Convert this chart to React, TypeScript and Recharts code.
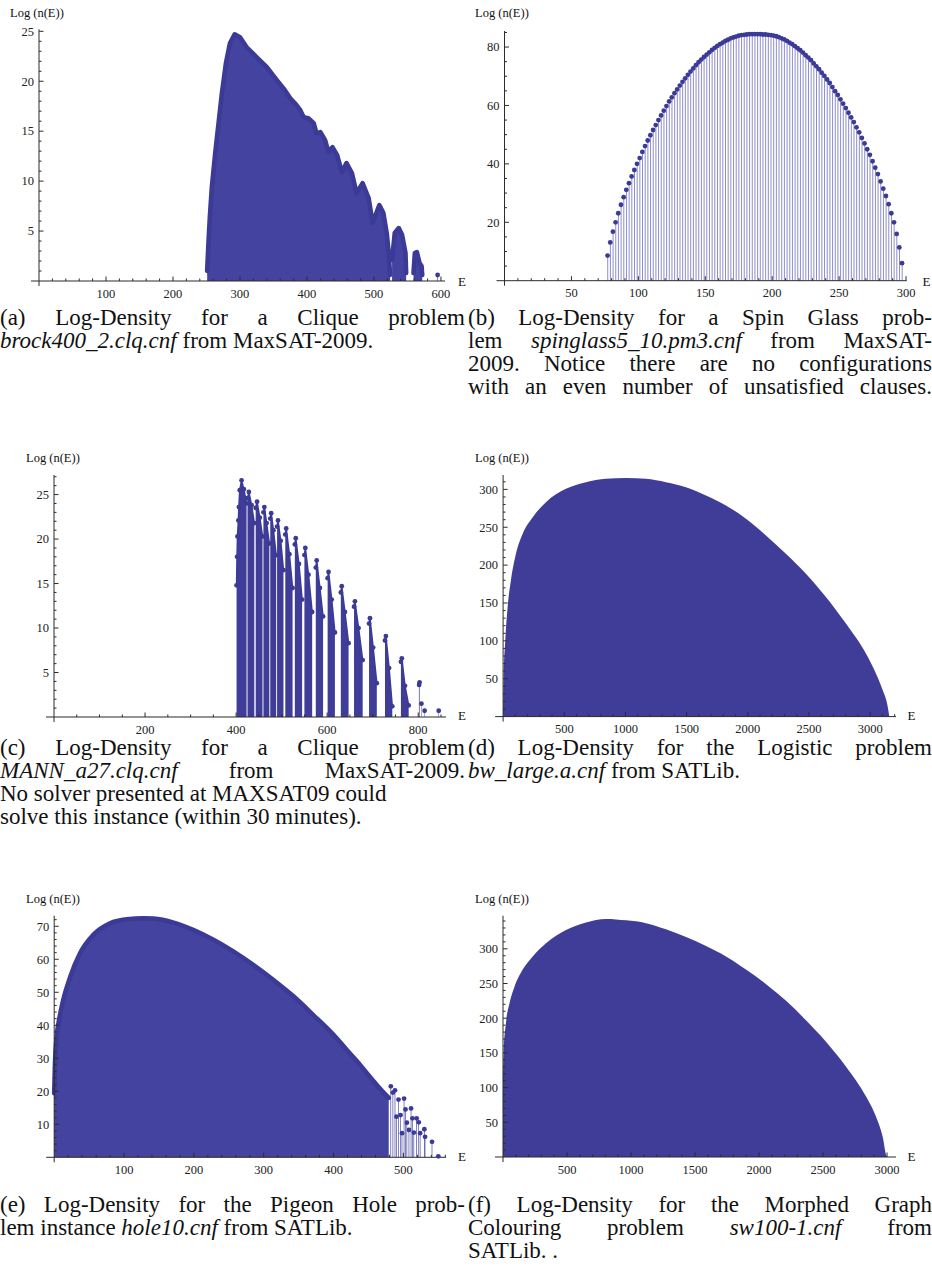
import React from 'react';
import { Area, Bar, ComposedChart, ReferenceLine, Scatter, XAxis, YAxis } from 'recharts';

const INK = '#3b3a96';
const DENSE = '#4543a0';
const SOLID = '#3f3d98';
const STEM = '#8e8dc9';
const AXIS = '#2b2b2b';
const SERIF = '"Liberation Serif", "Times New Roman", serif';

// (a) brock400_2.clq.cnf : outline of the dense stems (null = gap)
const brockE = [251, 253, 255, 258, 263, 268, 273, 279, 285, 292, 300, 310, 325, 340, 355, 367, 375, 382, 390, 395, 402, 410, 414, 420, 427, 432, 438, 445, 452, 459, 467, 474, 483, 492, 498, 508, 514, 519, 522, 524, 525, 527, 531, 537, 542, 547, 548, 553, 559, 561, 564, 568, 571, 572];
const brockV = [1.0, 3.9, 6.4, 9.4, 12.8, 15.8, 18.8, 21.8, 23.8, 24.7, 24.4, 23.4, 22.4, 21.4, 20.1, 19.1, 18.3, 17.8, 17.1, 16.4, 16.3, 15.8, 14.8, 14.9, 14.1, 12.9, 13.4, 12.6, 10.9, 11.8, 10.8, 8.8, 9.8, 8.3, 5.8, 7.6, 6.8, 4.8, 2.8, 0.6, null, 2.1, 4.8, 5.3, 4.6, 2.8, 0.8, null, 0.8, 2.8, 2.9, 1.8, 1.5, 0.6];
const brockStemE = [595];
const brockStemV = [0.6];

// (b) spinglass5_10.pm3.cnf : odd energies only
const spinE = [77, 79, 81, 83, 85, 87, 89, 91, 93, 95, 97, 99, 101, 103, 105, 107, 109, 111, 113, 115, 117, 119, 121, 123, 125, 127, 129, 131, 133, 135, 137, 139, 141, 143, 145, 147, 149, 151, 153, 155, 157, 159, 161, 163, 165, 167, 169, 171, 173, 175, 177, 179, 181, 183, 185, 187, 189, 191, 193, 195, 197, 199, 201, 203, 205, 207, 209, 211, 213, 215, 217, 219, 221, 223, 225, 227, 229, 231, 233, 235, 237, 239, 241, 243, 245, 247, 249, 251, 253, 255, 257, 259, 261, 263, 265, 267, 269, 271, 273, 275, 277, 279, 281, 283, 285, 287, 289, 291, 293, 295, 297];
const spinV = [8.6, 13.1, 16.8, 20.0, 23.1, 26.0, 28.6, 31.1, 33.4, 35.7, 37.9, 40.0, 42.0, 44.1, 46.1, 48.0, 49.8, 51.6, 53.3, 55.0, 56.6, 58.2, 59.8, 61.4, 62.8, 64.2, 65.5, 66.8, 68.1, 69.3, 70.5, 71.6, 72.7, 73.8, 74.8, 75.7, 76.6, 77.4, 78.2, 79.0, 79.7, 80.4, 81.0, 81.5, 82.1, 82.5, 83.0, 83.3, 83.6, 83.9, 84.1, 84.2, 84.3, 84.4, 84.4, 84.4, 84.4, 84.4, 84.3, 84.3, 84.2, 84.1, 83.9, 83.7, 83.4, 83.0, 82.6, 82.1, 81.5, 81.0, 80.3, 79.6, 78.9, 78.1, 77.2, 76.4, 75.5, 74.4, 73.4, 72.4, 71.2, 70.1, 68.9, 67.7, 66.3, 64.9, 63.6, 62.1, 60.6, 59.1, 57.5, 55.9, 54.3, 52.5, 50.8, 48.9, 47.0, 45.0, 43.1, 40.9, 38.7, 36.5, 34.0, 31.5, 29.0, 26.2, 23.1, 20.0, 16.0, 11.4, 6.0];

// (c) MANN_a27.clq.cnf : clusters of stems (null = gap between clusters)
const mannE = [401, 402, 403, 405, 406, 408, 412, 417, 423, 424, 425, 428, 434, 440, 441, 443, 446, 452, 458, 459, 460, 462, 467, 473, 474, 475, 477, 482, 488, 489, 490, 492, 498, 504, 506, 508, 510, 517, 524, 527, 529, 531, 538, 545, 548, 550, 552, 559, 567, 571, 575, 577, 584, 591, 596, 601, 603, 610, 617, 624, 630, 632, 639, 647, 653, 659, 661, 669, 678, 685, 692, 694, 701, 709, 718, 727, 729, 736, 743, 752, 762, 764, 771, 779];
const mannV = [14.8, 18.0, 20.3, 22.1, 23.6, 25.5, 26.6, 25.6, 24.0, null, 24.6, 25.3, 23.8, 21.8, null, 23.5, 24.2, 22.4, 20.3, null, 23.0, 23.6, 21.8, 19.5, null, 22.3, 22.9, 21.0, 18.2, null, 21.4, 22.1, 19.8, 16.5, null, 20.5, 21.2, 18.3, 14.5, null, 19.4, 20.1, 17.2, 13.2, null, 18.2, 19.0, 16.0, 11.8, null, 16.8, 17.6, 14.5, 11.3, null, 15.6, 16.3, 13.2, 9.5, null, 14.0, 14.7, 11.8, 8.3, null, 12.4, 13.0, 10.0, 6.4, null, 10.5, 11.1, 7.8, 3.8, null, 8.6, 9.1, 5.5, 1.2, null, 6.2, 6.6, 3.5, 1.3];
const mannStemE = [802, 803, 807, 814, 845];
const mannStemV = [3.6, 3.9, 1.5, 0.7, 0.7];

// (d) bw_large.a.cnf
const bwE = [0, 4.5, 18, 37, 64, 105, 160, 242, 350, 514, 677, 841, 1004, 1167, 1331, 1494, 1658, 1821, 1985, 2148, 2311, 2475, 2638, 2802, 2965, 3047, 3102, 3143, 3156];
const bwV = [0, 52.6, 100.9, 144.8, 179.9, 215, 241.4, 263.3, 283.1, 300.7, 309.5, 313.9, 315.2, 313.9, 309.5, 302.9, 292, 278.8, 261.2, 239.2, 215, 188.7, 158, 122.8, 83.3, 57, 35, 13.2, 0];

// (e) hole10.cnf : dense outline, then sparse tail stems
const holeE = [0, 1, 3.5, 7, 13, 23, 37, 56, 80, 104, 128, 142, 171, 199, 228, 257, 285, 314, 343, 371, 400, 419, 438, 452, 464, 472, 479];
const holeV = [19.4, 27.5, 36.5, 41.6, 47.7, 54.7, 61.8, 67.4, 70.9, 72.1, 72.4, 72.3, 71.1, 68.9, 65.9, 62.3, 58.3, 53.7, 48.7, 43.1, 37.1, 32.5, 28.0, 24.4, 21.4, 19.5, 18.0];
const holeStemE = [482, 485, 488, 490, 493, 496, 498, 501, 503, 505, 508, 511, 513, 515, 519, 522, 524, 530, 531, 541, 550];
const holeStemV = [21.5, 19.6, 20.3, 12.3, 17.5, 12.8, 7.3, 17.8, 14.5, 10.5, 8.3, 14.8, 11.8, 7.5, 11.8, 10.6, 7.3, 8.5, 6.2, 4.7, 0.3];

// (f) sw100-1.cnf
const swE = [0, 0.5, 5, 23, 50, 89, 154, 232, 336, 492, 648, 805, 961, 1117, 1273, 1430, 1586, 1742, 1898, 2055, 2211, 2367, 2523, 2680, 2836, 2914, 2966, 2997, 3005];
const swV = [63, 106, 149, 193, 221, 245, 270, 289, 308, 327, 338, 343, 341, 337, 328, 317, 304, 289, 270, 249, 225, 197, 166, 130, 87, 58, 29, 1, 0];

const rows = (es: number[], vs: (number | null)[], key = 'v') => es.map((e, i) => ({ e, [key]: vs[i] }));

const brockStems = rows(brockStemE, brockStemV, 's');
const mannStems = rows(mannStemE, mannStemV, 's');
const holeStems = rows(holeStemE, holeStemV, 's');

type Spec = {
  left: number; top: number; plotLeft: number; plotRight: number; axisTop: number; axisY: number;
  xMax: number; yMax: number; xMajor: number[]; xMinor: number; yMajor: number[]; yMinor: number;
};

const steps = (step: number, max: number) => {
  const out: number[] = [];
  for (let t = step; t <= max + 1e-9; t += step) out.push(Math.round(t * 1000) / 1000);
  return out;
};

const XTick = (p: any) => {
  const isMajor = p.major.includes(p.payload.value);
  return (
    <g>
      <line x1={p.x} x2={p.x} y1={p.y} y2={p.y - (isMajor ? 4.5 : 2.5)} stroke={AXIS} strokeWidth={1} />
      {isMajor && (
        <text x={p.x} y={p.y + 16.5} textAnchor="middle" fontFamily={SERIF} fontSize={12.5} fill="#222">
          {p.payload.value}
        </text>
      )}
    </g>
  );
};

const YTick = (p: any) => {
  const isMajor = p.major.includes(p.payload.value);
  return (
    <g>
      <line x1={p.x} x2={p.x + (isMajor ? 4.5 : 2.5)} y1={p.y} y2={p.y} stroke={AXIS} strokeWidth={1} />
      {isMajor && (
        <text x={p.x - 5} y={p.y + 4.3} textAnchor="end" fontFamily={SERIF} fontSize={12.5} fill="#222">
          {p.payload.value}
        </text>
      )}
    </g>
  );
};

const StemDot = (p: any) => <circle cx={p.cx} cy={p.cy} r={2.4} fill={INK} />;

function Panel({ spec, data, children }: { spec: Spec; data: any[]; children: React.ReactNode }) {
  const W = 466;
  const H = spec.axisY - spec.top + 24;
  const pxX = (spec.plotRight - spec.plotLeft) / spec.xMax;
  const pxY = (spec.axisY - spec.axisTop) / spec.yMax;
  return (
    <div style={{ position: 'absolute', left: spec.left, top: spec.top }}>
      <ComposedChart
        width={W}
        height={H}
        data={data}
        margin={{ top: spec.axisTop - spec.top, right: spec.left + W - spec.plotRight, bottom: 0, left: 0 }}
        style={{ overflow: 'visible' }}
      >
        <XAxis
          dataKey="e"
          type="number"
          domain={[0, spec.xMax]}
          ticks={steps(spec.xMinor, spec.xMax)}
          interval={0}
          height={24}
          tickSize={0}
          tickMargin={0}
          axisLine={false}
          tickLine={false}
          tick={<XTick major={spec.xMajor} />}
        />
        <YAxis
          type="number"
          domain={[0, spec.yMax]}
          ticks={steps(spec.yMinor, spec.yMax)}
          interval={0}
          width={spec.plotLeft - spec.left}
          tickSize={0}
          tickMargin={0}
          axisLine={false}
          tickLine={false}
          tick={<YTick major={spec.yMajor} />}
        />
        {children}
        <ReferenceLine segment={[{ x: -8 / pxX, y: 0 }, { x: spec.xMax, y: 0 }]} stroke={AXIS} strokeWidth={1} ifOverflow="visible" />
        <ReferenceLine segment={[{ x: 0, y: -5 / pxY }, { x: 0, y: spec.yMax }]} stroke={AXIS} strokeWidth={1} ifOverflow="visible" />
      </ComposedChart>
    </div>
  );
}

const specA: Spec = { left: 0, top: 0, plotLeft: 39, plotRight: 445, axisTop: 29.3, axisY: 281, xMax: 606, yMax: 25.2, xMajor: [100, 200, 300, 400, 500, 600], xMinor: 20, yMajor: [5, 10, 15, 20, 25], yMinor: 1 };
const specB: Spec = { left: 466, top: 0, plotLeft: 504.5, plotRight: 906.7, axisTop: 31, axisY: 280.7, xMax: 300.5, yMax: 85.5, xMajor: [50, 100, 150, 200, 250, 300], xMinor: 10, yMajor: [20, 40, 60, 80], yMinor: 5 };
const specC: Spec = { left: 0, top: 420, plotLeft: 54, plotRight: 446, axisTop: 475, axisY: 717, xMax: 861, yMax: 27.2, xMajor: [200, 400, 600, 800], xMinor: 50, yMajor: [5, 10, 15, 20, 25], yMinor: 1 };
const specD: Spec = { left: 466, top: 420, plotLeft: 503.1, plotRight: 896, axisTop: 475, axisY: 716.6, xMax: 3211, yMax: 319, xMajor: [500, 1000, 1500, 2000, 2500, 3000], xMinor: 100, yMajor: [50, 100, 150, 200, 250, 300], yMinor: 10 };
const specE: Spec = { left: 0, top: 880, plotLeft: 54.2, plotRight: 446, axisTop: 915.7, axisY: 1157.3, xMax: 561, yMax: 73.2, xMajor: [100, 200, 300, 400, 500], xMinor: 20, yMajor: [10, 20, 30, 40, 50, 60, 70], yMinor: 2 };
const specF: Spec = { left: 466, top: 880, plotLeft: 503, plotRight: 896, axisTop: 915.7, axisY: 1157, xMax: 3070, yMax: 347.7, xMajor: [500, 1000, 1500, 2000, 2500, 3000], xMinor: 100, yMajor: [50, 100, 150, 200, 250, 300], yMinor: 10 };

const txt: React.CSSProperties = { position: 'absolute', fontFamily: SERIF, color: '#111', whiteSpace: 'nowrap' };

const AxisNames = ({ lx, ly, ex, ey }: { lx: number; ly: number; ex: number; ey: number }) => (
  <>
    <div style={{ ...txt, left: lx, top: ly - 8, fontSize: 12.5, lineHeight: '16px' }}>Log (n(E))</div>
    <div style={{ ...txt, left: ex, top: ey - 8, fontSize: 13, lineHeight: '16px' }}>E</div>
  </>
);

const Line = ({ x, y, w, just, children }: { x: number; y: number; w: number; just?: boolean; children: React.ReactNode }) => (
  <div
    style={{
      position: 'absolute',
      left: x,
      top: y - 12,
      width: w,
      height: 24,
      lineHeight: '24px',
      fontSize: 23,
      fontFamily: SERIF,
      color: '#111',
      whiteSpace: 'nowrap',
      textAlign: just ? 'justify' : 'left',
      textAlignLast: just ? 'justify' : 'left',
    }}
  >
    {children}
  </div>
);

export default function App() {
  const L = 0;
  const R = 468;
  const LW = 465;
  const RW = 464;
  return (
    <div style={{ position: 'absolute', left: 0, top: 0, width: 932, height: 1275, background: '#fff', overflow: 'hidden' }}>
      <Panel spec={specA} data={[...rows(brockE, brockV), ...brockStems]}>
        <Area dataKey="v" type="linear" fill={DENSE} fillOpacity={1} stroke={INK} strokeWidth={4.6} strokeLinejoin="round" strokeLinecap="round" connectNulls={false} dot={false} activeDot={false} isAnimationActive={false} />
        <Bar dataKey="s" barSize={1.5} fill={INK} isAnimationActive={false} />
        <Scatter data={brockStems} dataKey="s" shape={StemDot} isAnimationActive={false} />
      </Panel>
      <Panel spec={specB} data={rows(spinE, spinV)}>
        <Bar dataKey="v" barSize={1} fill={STEM} isAnimationActive={false} />
        <Scatter dataKey="v" shape={StemDot} isAnimationActive={false} />
      </Panel>
      <Panel spec={specC} data={[...rows(mannE, mannV), ...mannStems]}>
        <Area dataKey="v" type="linear" fill={SOLID} fillOpacity={1} stroke={INK} strokeWidth={1.5} connectNulls={false} dot={{ r: 2.4, fill: INK, stroke: 'none' }} activeDot={false} isAnimationActive={false} />
        <Bar dataKey="s" barSize={1.5} fill={INK} isAnimationActive={false} />
        <Scatter data={mannStems} dataKey="s" shape={StemDot} isAnimationActive={false} />
      </Panel>
      <Panel spec={specD} data={rows(bwE, bwV)}>
        <Area dataKey="v" type="monotone" fill={SOLID} fillOpacity={1} stroke="none" dot={false} activeDot={false} isAnimationActive={false} />
      </Panel>
      <Panel spec={specE} data={[...rows(holeE, holeV), ...holeStems]}>
        <Area dataKey="v" type="monotone" fill={DENSE} fillOpacity={1} stroke={INK} strokeWidth={4.6} strokeLinejoin="round" strokeLinecap="round" connectNulls={false} dot={false} activeDot={false} isAnimationActive={false} />
        <Bar dataKey="s" barSize={1.5} fill={INK} isAnimationActive={false} />
        <Scatter data={holeStems} dataKey="s" shape={StemDot} isAnimationActive={false} />
      </Panel>
      <Panel spec={specF} data={rows(swE, swV)}>
        <Area dataKey="v" type="monotone" fill={SOLID} fillOpacity={1} stroke="none" dot={false} activeDot={false} isAnimationActive={false} />
      </Panel>

      <AxisNames lx={10} ly={13} ex={458} ey={282} />
      <AxisNames lx={475} ly={13} ex={922.5} ey={282} />
      <AxisNames lx={26} ly={458} ex={458} ey={716} />
      <AxisNames lx={475} ly={458} ex={907.5} ey={716} />
      <AxisNames lx={26} ly={899} ex={458} ey={1157} />
      <AxisNames lx={475} ly={899} ex={907.5} ey={1157} />

      <Line x={L} y={318} w={LW} just>(a) Log-Density for a Clique problem</Line>
      <Line x={L} y={341} w={LW}><i>brock400_2.clq.cnf</i> from MaxSAT-2009.</Line>

      <Line x={R} y={318} w={RW} just>(b) Log-Density for a Spin Glass prob-</Line>
      <Line x={R} y={341} w={RW} just>lem <i>spinglass5_10.pm3.cnf</i> from MaxSAT-</Line>
      <Line x={R} y={364} w={RW} just>2009. Notice there are no configurations</Line>
      <Line x={R} y={387} w={RW} just>with an even number of unsatisfied clauses.</Line>

      <Line x={L} y={748} w={LW} just>(c) Log-Density for a Clique problem</Line>
      <Line x={L} y={771} w={LW} just><i>MANN_a27.clq.cnf</i> from MaxSAT-2009.</Line>
      <Line x={L} y={794} w={LW}>No solver presented at MAXSAT09 could</Line>
      <Line x={L} y={817} w={LW}>solve this instance (within 30 minutes).</Line>

      <Line x={R} y={748} w={RW} just>(d) Log-Density for the Logistic problem</Line>
      <Line x={R} y={771} w={RW}><i>bw_large.a.cnf</i> from SATLib.</Line>

      <Line x={L} y={1205} w={LW} just>(e) Log-Density for the Pigeon Hole prob-</Line>
      <Line x={L} y={1228} w={LW}>lem instance <i>hole10.cnf</i> from SATLib.</Line>

      <Line x={R} y={1205} w={RW} just>(f) Log-Density for the Morphed Graph</Line>
      <Line x={R} y={1228} w={RW} just>Colouring problem <i>sw100-1.cnf</i> from</Line>
      <Line x={R} y={1251} w={RW}>SATLib. .</Line>
    </div>
  );
}
